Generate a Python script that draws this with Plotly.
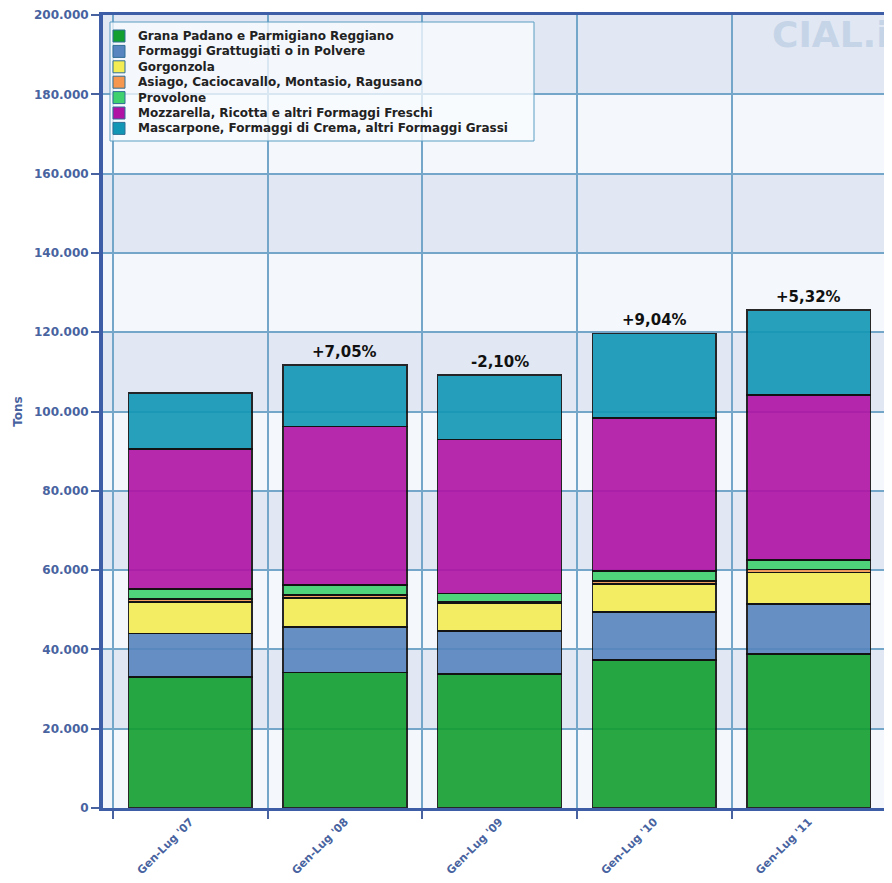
import plotly.graph_objects as go

# Jan-Jul production, tons
periods = ["Gen-Lug '07", "Gen-Lug '08", "Gen-Lug '09", "Gen-Lug '10", "Gen-Lug '11"]
grana = [33100, 34200, 33800, 37300, 38800]
grattugiati = [10900, 11500, 10900, 12100, 12700]
gorgonzola = [8000, 7300, 6900, 7100, 7900]
asiago = [700, 700, 400, 800, 800]
provolone = [2500, 2500, 2100, 2500, 2300]
mozzarella = [35300, 40000, 38900, 38600, 41700]
mascarpone = [14200, 15500, 16200, 21300, 21400]
changes = ["", "+7,05%", "-2,10%", "+9,04%", "+5,32%"]
y_ticks = [0, 20000, 40000, 60000, 80000, 100000, 120000, 140000, 160000, 180000, 200000]

series = [
    ("Grana Padano e Parmigiano Reggiano", grana, "#129f30"),
    ("Formaggi Grattugiati o in Polvere", grattugiati, "#5785bf"),
    ("Gorgonzola", gorgonzola, "#f3ec53"),
    ("Asiago, Caciocavallo, Montasio, Ragusano", asiago, "#f5974f"),
    ("Provolone", provolone, "#3fd16e"),
    ("Mozzarella, Ricotta e altri Formaggi Freschi", mozzarella, "#b012a4"),
    ("Mascarpone, Formaggi di Crema, altri Formaggi Grassi", mascarpone, "#1197b5"),
]

AXIS_BLUE = "#4863a0"
GRID = "#74a6c9"
FONT = "DejaVu Sans"

# plot area in page pixels, used to place the boxed legend
PLOT_W, PLOT_H = 789, 793


def px_x(dx):
    return dx / PLOT_W


def px_y(dy):
    return 1 - dy / PLOT_H


fig = go.Figure()
for name, values, color in series:
    fig.add_trace(
        go.Bar(
            x=periods,
            y=values,
            name=name,
            width=0.8,
            showlegend=False,
            marker=dict(color=color, opacity=0.9, line=dict(color="#111111", width=1.5)),
        )
    )

totals = [sum(v) for v in zip(*[s[1] for s in series])]
for period, total, label in zip(periods, totals, changes):
    if label:
        fig.add_annotation(
            x=period, y=total, text="<b>%s</b>" % label, showarrow=False,
            yanchor="bottom", yshift=2, font=dict(family=FONT, size=15, color="#111111"),
        )

# alternating horizontal bands
for lo, hi in zip(y_ticks[:-1], y_ticks[1:]):
    if (lo // 20000) % 2 == 1:
        fig.add_hrect(y0=lo, y1=hi, fillcolor="#e1e8f3", line_width=0, layer="below")

# boxed legend, compact rows like the original
fig.add_shape(
    type="rect", xref="paper", yref="paper", layer="above",
    x0=px_x(7), x1=px_x(431), y0=px_y(126), y1=px_y(7),
    fillcolor="rgba(250,252,255,0.75)", line=dict(color="#5b9dc2", width=1),
)
for i, (name, values, color) in enumerate(series):
    cy = 21 + 15.4 * i
    fig.add_shape(
        type="rect", xref="paper", yref="paper", layer="above",
        x0=px_x(10), x1=px_x(22), y0=px_y(cy + 6), y1=px_y(cy - 6),
        fillcolor=color, line=dict(color="#2f6e95", width=1),
    )
    fig.add_annotation(
        xref="paper", yref="paper", x=px_x(33), y=px_y(cy), xanchor="left", yanchor="middle",
        showarrow=False, text="<b>%s</b>" % name,
        font=dict(family=FONT, size=12, color="#222222"),
    )

fig.add_annotation(
    xref="paper", yref="paper", x=0.493, y=px_y(-4), yanchor="bottom", showarrow=False,
    text="Fonte: ISTAT", font=dict(family=FONT, size=11, color="#333333"),
)
fig.add_annotation(
    xref="paper", yref="paper", x=0.846, y=0.975, xanchor="left", yanchor="middle", showarrow=False,
    text="<b>CIAL.it</b>", font=dict(family=FONT, size=36, color="#c6d4e8"),
)

fig.update_layout(
    width=884,
    height=875,
    barmode="stack",
    separators=",.",
    paper_bgcolor="white",
    plot_bgcolor="#f4f8fc",
    margin=dict(l=95, r=0, t=7, b=75),
    font=dict(family=FONT, color=AXIS_BLUE),
)
fig.update_xaxes(
    range=[-0.565, 4.538],
    tickson="boundaries",
    ticks="outside", ticklen=8, tickcolor=AXIS_BLUE, tickwidth=1.5,
    tickangle=-45,
    tickfont=dict(family=FONT, size=11, color=AXIS_BLUE, weight="bold"),
    showgrid=True, gridcolor=GRID, gridwidth=1.5,
    showline=True, linecolor="#3d5ea6", linewidth=3, mirror=True,
)
fig.update_yaxes(
    range=[0, 200000],
    tickvals=y_ticks,
    tickformat=",.0f",
    ticks="outside", ticklen=8, tickcolor=AXIS_BLUE, tickwidth=1.5,
    tickfont=dict(family=FONT, size=12, color=AXIS_BLUE, weight="bold"),
    showgrid=True, gridcolor=GRID, gridwidth=1.5,
    showline=True, linecolor="#3d5ea6", linewidth=4,
    zeroline=False,
    title=dict(text="Tons", standoff=10, font=dict(family=FONT, size=12, color=AXIS_BLUE, weight="bold")),
)

fig.write_html("out.html")
